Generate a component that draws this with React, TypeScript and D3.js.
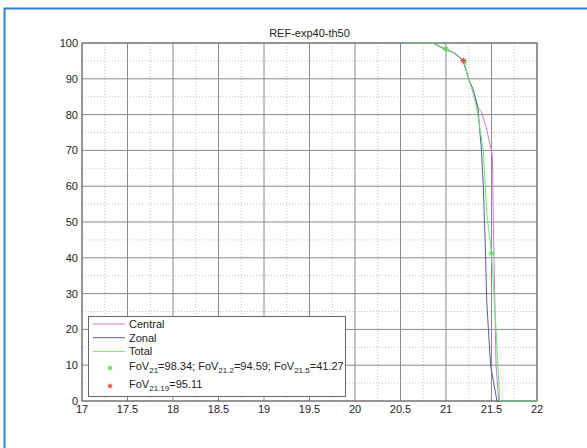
import * as d3 from 'd3';

// magnitude vs FoV (%) curves
const centralMag = [20.55, 20.85, 21.0, 21.1, 21.19, 21.25, 21.3, 21.35, 21.39, 21.44, 21.48, 21.5, 21.51, 21.52, 21.535, 21.55, 21.58, 22];
const centralFov = [100, 100, 98, 97.2, 95.2, 90, 86, 82, 80.8, 76.6, 72, 70, 68, 50, 30, 10, 0, 0];

const zonalMag = [20.55, 20.85, 21.0, 21.08, 21.19, 21.24, 21.3, 21.35, 21.39, 21.41, 21.435, 21.447, 21.49, 21.56, 22];
const zonalFov = [100, 100, 98.3, 97.3, 95.1, 90.6, 86.9, 82, 70, 60, 41, 28, 10, 0, 0];

const totalMag = [20.55, 20.85, 21.0, 21.1, 21.19, 21.2, 21.25, 21.3, 21.35, 21.38, 21.41, 21.45, 21.5, 21.55, 21.59, 22];
const totalFov = [100, 100, 98.34, 97, 95.3, 94.59, 90, 86, 80, 75, 70, 52, 41.27, 20, 0, 0];

const greenPtsMag = [21, 21.2, 21.5];
const greenPtsFov = [98.34, 94.59, 41.27];
const redPtsMag = [21.19];
const redPtsFov = [95.11];

const xTicks = [17, 17.5, 18, 18.5, 19, 19.5, 20, 20.5, 21, 21.5, 22];
const yTicks = [0, 10, 20, 30, 40, 50, 60, 70, 80, 90, 100];
const xMinor = [17.25, 17.75, 18.25, 18.75, 19.25, 19.75, 20.25, 20.75, 21.25, 21.75];
const yMinor = [5, 15, 25, 35, 45, 55, 65, 75, 85, 95];

const seriesNames = ['Central', 'Zonal', 'Total'];
const seriesColors = ['#d27ad6', '#5a5aa8', '#6ee86e'];

const W = 587;
const H = 448;
const m = { left: 82, right: 537, top: 43, bottom: 401 };

const Star = ({ cx, cy, color, r = 3 }: { cx: number; cy: number; color: string; r?: number }) => (
  <g stroke={color} strokeWidth={1}>
    <line x1={cx - r} y1={cy} x2={cx + r} y2={cy} />
    <line x1={cx} y1={cy - r} x2={cx} y2={cy + r} />
    <line x1={cx - r * 0.7} y1={cy - r * 0.7} x2={cx + r * 0.7} y2={cy + r * 0.7} />
    <line x1={cx - r * 0.7} y1={cy + r * 0.7} x2={cx + r * 0.7} y2={cy - r * 0.7} />
  </g>
);

export default function App() {
  const x = d3.scaleLinear().domain([17, 22]).range([m.left, m.right]);
  const y = d3.scaleLinear().domain([0, 100]).range([m.bottom, m.top]);
  const line = d3.line<[number, number]>().x(d => x(d[0])).y(d => y(d[1]));

  const series = [
    centralMag.map((v, i) => [v, centralFov[i]] as [number, number]),
    zonalMag.map((v, i) => [v, zonalFov[i]] as [number, number]),
    totalMag.map((v, i) => [v, totalFov[i]] as [number, number]),
  ];

  const font = 'Liberation Sans, Arial, sans-serif';

  return (
    <svg width={W} height={H} style={{ position: 'absolute', left: 0, top: 0 }} fontFamily={font}>
      <rect width={W} height={H} fill="#fff" />
      <rect x={4.5} y={8.5} width={W + 10} height={H + 10} fill="none" stroke="#2f80d8" strokeWidth={2} />

      <text x={(m.left + m.right) / 2} y={37} fontSize={11} textAnchor="middle" fill="#222">REF-exp40-th50</text>

      {/* minor grid */}
      {xMinor.map(t => (
        <line key={'xm' + t} x1={x(t)} x2={x(t)} y1={m.top} y2={m.bottom} stroke="#c4c4c4" strokeDasharray="1,2" />
      ))}
      {yMinor.map(t => (
        <line key={'ym' + t} x1={m.left} x2={m.right} y1={y(t)} y2={y(t)} stroke="#c4c4c4" strokeDasharray="1,2" />
      ))}
      {/* major grid */}
      {xTicks.map(t => (
        <line key={'xg' + t} x1={x(t)} x2={x(t)} y1={m.top} y2={m.bottom} stroke="#8a8a8a" />
      ))}
      {yTicks.map(t => (
        <line key={'yg' + t} x1={m.left} x2={m.right} y1={y(t)} y2={y(t)} stroke="#8a8a8a" />
      ))}
      <rect x={m.left} y={m.top} width={m.right - m.left} height={m.bottom - m.top} fill="none" stroke="#666" />

      {xTicks.map(t => (
        <text key={'xl' + t} x={x(t)} y={m.bottom + 12} fontSize={11} textAnchor="middle" fill="#222">{t}</text>
      ))}
      {yTicks.map(t => (
        <text key={'yl' + t} x={m.left - 4} y={y(t) + 4} fontSize={11} textAnchor="end" fill="#222">{t}</text>
      ))}

      {series.map((s, i) => (
        <path key={i} d={line(s) ?? ''} fill="none" stroke={seriesColors[i]} strokeWidth={1} />
      ))}

      {greenPtsMag.map((v, i) => (
        <Star key={'g' + i} cx={x(v)} cy={y(greenPtsFov[i])} color="#4ee04e" />
      ))}
      {redPtsMag.map((v, i) => (
        <Star key={'r' + i} cx={x(v)} cy={y(redPtsFov[i])} color="#e04040" />
      ))}

      {/* legend */}
      <rect x={88.5} y={316.5} width={257} height={80} fill="#fff" stroke="#666" />
      {seriesNames.map((n, i) => (
        <g key={n}>
          <line x1={93} x2={125} y1={324 + i * 13.7} y2={324 + i * 13.7} stroke={seriesColors[i]} />
          <text x={129} y={328 + i * 13.7} fontSize={11} fill="#222">{n}</text>
        </g>
      ))}
      <Star cx={110} cy={368} color="#4ee04e" r={2.5} />
      <text x={129} y={370} fontSize={11} fill="#222">
        FoV<tspan fontSize={8} dy={3}>21</tspan>
        <tspan dy={-3}>=98.34; FoV</tspan>
        <tspan fontSize={8} dy={3}>21.2</tspan>
        <tspan dy={-3}>=94.59; FoV</tspan>
        <tspan fontSize={8} dy={3}>21.5</tspan>
        <tspan dy={-3}>=41.27</tspan>
      </text>
      <Star cx={110} cy={386} color="#e04040" r={2.5} />
      <text x={129} y={388} fontSize={11} fill="#222">
        FoV<tspan fontSize={8} dy={3}>21.19</tspan>
        <tspan dy={-3}>=95.11</tspan>
      </text>
    </svg>
  );
}
